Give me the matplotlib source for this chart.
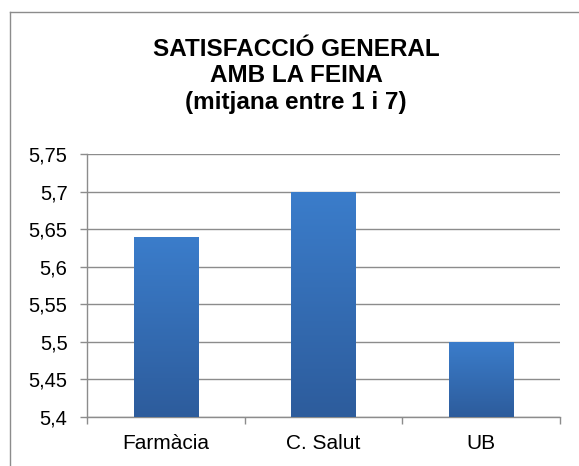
import matplotlib
matplotlib.use("Agg")
import matplotlib.pyplot as plt
import numpy as np
from matplotlib.lines import Line2D
from matplotlib.ticker import FuncFormatter, FixedLocator
from matplotlib.colors import LinearSegmentedColormap

categories = ["Farmàcia", "C. Salut", "UB"]
values = [5.64, 5.70, 5.50]
yticks = [5.4, 5.45, 5.5, 5.55, 5.6, 5.65, 5.7, 5.75]
title = "SATISFACCIÓ GENERAL\nAMB LA FEINA\n(mitjana entre 1 i 7)"

plt.rcParams['font.family'] = ['Liberation Sans', 'DejaVu Sans']

W, H = 579, 466
fig = plt.figure(figsize=(W/100, H/100), dpi=100)
ax = fig.add_axes([87/W, 1-417/H, (560-87)/W, (417-154)/H])

x = np.arange(len(categories))
bars = ax.bar(x, values, width=0.41, bottom=0, color='#3a74bf', zorder=3)

# gradient fill clipped to each bar
grad = np.linspace(0, 1, 256).reshape(-1, 1)
cmap = LinearSegmentedColormap.from_list('g', ['#2d5c9c', '#3b7dcb'])
for b in bars:
    x0, w = b.get_x(), b.get_width()
    im = ax.imshow(grad, extent=[x0, x0+w, 5.4, b.get_height()], origin='lower',
                   cmap=cmap, aspect='auto', zorder=4)
    im.set_clip_path(b)
ax.set_xlim(-0.5, len(categories)-0.5)
ax.set_ylim(5.4, 5.75)

ax.yaxis.set_major_locator(FixedLocator(yticks))
ax.yaxis.set_major_formatter(FuncFormatter(lambda v, p: ('%g' % round(v, 2)).replace('.', ',')))
ax.set_xticks(x)
ax.set_xticklabels(categories)
ax.xaxis.set_minor_locator(FixedLocator([-0.5, 0.5, 1.5, 2.5]))
ax.tick_params(axis='x', which='major', length=0, pad=12, labelsize=15)
ax.tick_params(axis='x', which='minor', length=5, color='#8c8c8c', width=1)
ax.tick_params(axis='y', length=5, color='#8c8c8c', width=1, labelsize=14.5, pad=9)

ax.grid(axis='y', color='#8c8c8c', linewidth=1, zorder=0)
for s in ['top', 'right']:
    ax.spines[s].set_visible(False)
for s in ['left', 'bottom']:
    ax.spines[s].set_color('#8c8c8c')
    ax.spines[s].set_linewidth(1)

fig.text(296/W, 1-76/H, title, ha='center', va='center', fontsize=17.5,
         fontweight='bold', linespacing=1.22)

# chart-area border (only top and left visible)
fig.add_artist(Line2D([10/W, 1], [1-12/H, 1-12/H], transform=fig.transFigure, color='#8c8c8c', lw=1))
fig.add_artist(Line2D([10/W, 10/W], [0, 1-12/H], transform=fig.transFigure, color='#8c8c8c', lw=1))

fig.savefig('out.png', dpi=100)
